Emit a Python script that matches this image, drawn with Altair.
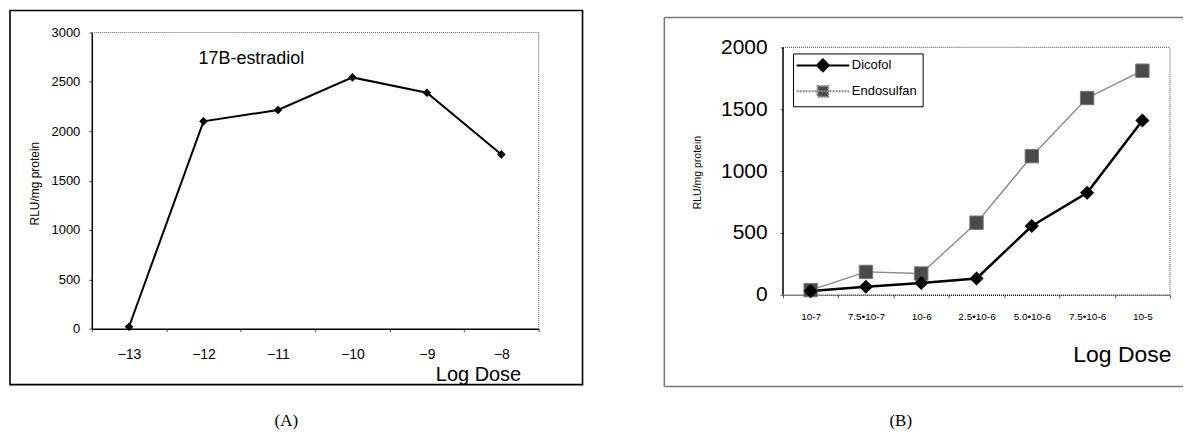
import altair as alt
import pandas as pd

FONT = "Liberation Sans"

# ---------- Panel A data ----------
a_dose = ["\u221213", "\u221212", "\u221211", "\u221210", "\u22129", "\u22128"]
a_rlu = [20, 2100, 2215, 2545, 2390, 1765]
a_yticks = [0, 500, 1000, 1500, 2000, 2500, 3000]
a_ymax = 3000

# ---------- Panel B data ----------
b_dose = ["10-7", "7.5\u202210-7", "10-6", "2.5\u202210-6", "5.0\u202210-6", "7.5\u202210-6", "10-5"]
dicofol = [30, 65, 95, 132, 556, 825, 1409]
endosulfan = [38, 185, 172, 583, 1121, 1591, 1812]
series_names = ["Dicofol", "Endosulfan"]
b_yticks = [0, 500, 1000, 1500, 2000]
b_ymax = 2000

captions = ["(A)", "(B)"]
title_a = "17B-estradiol"
x_title = "Log Dose"
y_title = "RLU/mg protein"

one = pd.DataFrame({"k": [0]})
FRAME = "#666"

# ================= Panel A =================
WA, HA = 448, 297
dfA = pd.DataFrame({"dose": a_dose, "rlu": a_rlu})

xA = alt.X("dose:N", sort=a_dose,
           scale=alt.Scale(type="band", domain=a_dose, paddingInner=0, paddingOuter=0),
           axis=alt.Axis(title=x_title, labelAngle=0, tickBand="extent", tickSize=3,
                         tickColor="#555", labelPadding=16, labelFont=FONT, labelFontSize=14,
                         labelColor="black", domainColor="black", domainWidth=1.5,
                         titleFont=FONT, titleFontSize=20, titleFontWeight="normal",
                         titleColor="black", titleX=430, titleY=52, titleAlign="right",
                         titleBaseline="alphabetic"))
yA = alt.Y("rlu:Q", scale=alt.Scale(domain=[0, a_ymax], nice=False),
           axis=alt.Axis(values=a_yticks, format="d", title=y_title, grid=False, tickSize=3,
                         tickColor="#555", labelPadding=9, labelFont=FONT, labelFontSize=13,
                         labelColor="black", domainColor="black", domainWidth=1.5,
                         titleFont=FONT, titleFontSize=12, titleFontWeight="normal",
                         titleColor="black", titleX=-57, titleY=151, titleAlign="center",
                         titleBaseline="middle"))

boxA = alt.Chart(one).mark_rect(fillOpacity=0, stroke="black", strokeWidth=1.6).encode(
    x=alt.value(-82), x2=alt.value(492), y=alt.value(-22), y2=alt.value(353))
frameA_top = alt.Chart(one).mark_rule(color=FRAME, strokeWidth=1.2, strokeDash=[1, 1]).encode(
    x=alt.value(0), x2=alt.value(WA), y=alt.datum(a_ymax))
frameA_right = alt.Chart(one).mark_rule(color=FRAME, strokeWidth=1.2, strokeDash=[1, 1]).encode(
    x=alt.value(WA), y=alt.datum(0), y2=alt.datum(a_ymax))

lineA = alt.Chart(dfA).mark_line(color="black", strokeWidth=2).encode(x=xA, y=yA)
ptsA = alt.Chart(dfA).mark_point(shape="diamond", filled=True, color="black", size=75,
                                 opacity=1).encode(x=xA, y=yA)

labelA = alt.Chart(one).mark_text(text=title_a, align="left", baseline="middle", font=FONT,
                                  fontSize=18, color="black", dx=-5).encode(
    x=alt.datum(a_dose[1]), y=alt.datum(2730))

capA = alt.Chart(pd.DataFrame({"c": [captions[0]]})).mark_text(
    font="Liberation Serif", fontSize=17, color="black", baseline="middle").encode(
    text="c:N", x=alt.value(195), y=alt.value(390))

panelA = alt.layer(boxA, frameA_top, frameA_right, lineA, ptsA, labelA, capA).properties(
    width=WA, height=HA)

# ================= Panel B =================
# the view is 15 px taller than the framed plot so both panels share their top edge
WB, HB, TOPB = 388, 263, 15
b_dom_top = b_ymax * HB / (HB - TOPB)
dfB = pd.DataFrame({
    "dose": b_dose * 2,
    "series": [series_names[0]] * len(b_dose) + [series_names[1]] * len(b_dose),
    "rlu": dicofol + endosulfan,
})

xB = alt.X("dose:N", sort=b_dose,
           scale=alt.Scale(type="band", domain=b_dose, paddingInner=0, paddingOuter=0),
           axis=alt.Axis(title=x_title, labelAngle=0, tickBand="extent", tickSize=3,
                         tickColor="#555", labelPadding=14, labelFont=FONT, labelFontSize=10,
                         labelColor="black", domainColor="black", domainWidth=1.5,
                         domainDash=[1, 1],
                         titleFont=FONT, titleFontSize=23, titleFontWeight="normal",
                         titleColor="black", titleX=389, titleY=67, titleAlign="right",
                         titleBaseline="alphabetic"))
yB = alt.Y("rlu:Q", scale=alt.Scale(domain=[0, b_dom_top], nice=False),
           axis=alt.Axis(values=b_yticks, format="d", title=y_title, grid=False, tickSize=3,
                         tickColor="#555", labelPadding=13, labelFont=FONT, labelFontSize=21,
                         labelColor="black", domain=False,
                         titleFont=FONT, titleFontSize=10.5, titleFontWeight="normal",
                         titleColor="black", titleX=-86, titleY=125 + TOPB, titleAlign="center",
                         titleBaseline="middle"))

boxB_top = alt.Chart(one).mark_rule(color="#777", strokeWidth=1.5).encode(
    x=alt.value(-119), x2=alt.value(401), y=alt.value(TOPB - 30))
boxB_bot = alt.Chart(one).mark_rule(color="#777", strokeWidth=1.5).encode(
    x=alt.value(-119), x2=alt.value(401), y=alt.value(TOPB + 340))
boxB_left = alt.Chart(one).mark_rule(color="#777", strokeWidth=1.5).encode(
    x=alt.value(-119), y=alt.value(TOPB - 30), y2=alt.value(TOPB + 340))

frameB_left = alt.Chart(one).mark_rule(color="black", strokeWidth=1.5).encode(
    x=alt.value(0), y=alt.datum(0), y2=alt.datum(b_ymax))
frameB_top = alt.Chart(one).mark_rule(color=FRAME, strokeWidth=1.2, strokeDash=[1, 1]).encode(
    x=alt.value(0), x2=alt.value(WB), y=alt.datum(b_ymax))
frameB_right = alt.Chart(one).mark_rule(color=FRAME, strokeWidth=1.2, strokeDash=[1, 1]).encode(
    x=alt.value(WB), y=alt.datum(0), y2=alt.datum(b_ymax))

dB_d = alt.Chart(dfB).transform_filter(alt.datum.series == series_names[0])
dB_e = alt.Chart(dfB).transform_filter(alt.datum.series == series_names[1])

lineE = dB_e.mark_line(color="#8a8a8a", strokeWidth=1.4).encode(x=xB, y=yB)
ptsE = dB_e.mark_point(shape="square", filled=True, color="#4a4a4a", stroke="#777",
                       strokeWidth=1, size=180, opacity=1).encode(x=xB, y=yB)
lineD = dB_d.mark_line(color="black", strokeWidth=2.5).encode(x=xB, y=yB)
ptsD = dB_d.mark_point(shape="diamond", filled=True, color="black", size=200,
                       opacity=1).encode(x=xB, y=yB)

# legend glyphs: a line with the marker in its middle
path_d = "M-4.4,0L4.4,0M0,-1L1,0L0,1L-1,0Z"
path_s = "M-4.4,0L4.4,0M-0.9,-0.9L0.9,-0.9L0.9,0.9L-0.9,0.9Z"

legB = alt.Chart(dfB).transform_filter("false").mark_point(filled=True, size=144, opacity=1).encode(
    x=xB, y=yB,
    color=alt.Color("series:N", scale=alt.Scale(domain=series_names, range=["black", "#4a4a4a"]),
                    legend=alt.Legend(title=None, orient="none", legendX=10, legendY=TOPB + 6,
                                      strokeColor="black", padding=5, fillColor="white",
                                      labelFont=FONT, labelFontSize=13, labelColor="black",
                                      symbolSize=144, symbolStrokeWidth=2, rowPadding=6,
                                      symbolOffset=18, labelOffset=22, symbolOpacity=1)),
    stroke=alt.Stroke("series:N", scale=alt.Scale(domain=series_names, range=["black", "#8a8a8a"])),
    shape=alt.Shape("series:N", scale=alt.Scale(domain=series_names, range=[path_d, path_s])),
    strokeDash=alt.StrokeDash("series:N",
                              scale=alt.Scale(domain=series_names, range=[[1, 0], [2, 1]])),
)

capB = alt.Chart(pd.DataFrame({"c": [captions[1]]})).mark_text(
    font="Liberation Serif", fontSize=17, color="black", baseline="middle").encode(
    text="c:N", x=alt.value(118), y=alt.value(TOPB + 375))

panelB = alt.layer(boxB_top, boxB_bot, boxB_left, frameB_top, frameB_right, frameB_left,
                   lineE, lineD, ptsE, ptsD, legB, capB).properties(
    width=WB, height=HB).resolve_legend(
    color="independent", stroke="independent", shape="independent", strokeDash="independent")

chart = alt.hconcat(panelA, panelB, spacing=78).properties(padding=0).resolve_legend(
    color="independent", stroke="independent", shape="independent", strokeDash="independent"
).configure_view(stroke="transparent")

chart.save("out.html", embed_options={"renderer": "svg", "actions": False})
